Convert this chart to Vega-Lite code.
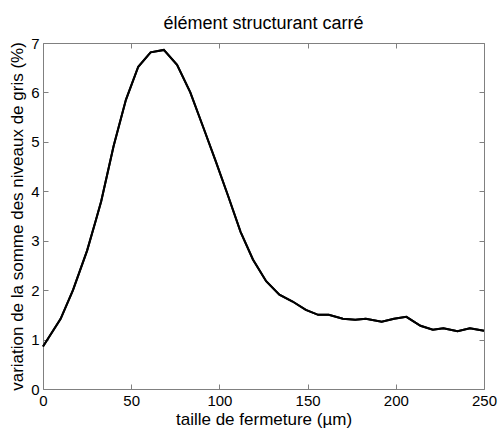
{
  "$schema": "https://vega.github.io/schema/vega-lite/v6.json",
  "width": 441,
  "height": 346,
  "autosize": "none",
  "padding": {"left": 43, "top": 43, "right": 15, "bottom": 41},
  "background": "white",
  "title": {"text": "élément structurant carré", "font": "Liberation Sans", "fontSize": 18, "fontWeight": "normal", "color": "black", "offset": 3},
  "config": {
    "view": {"stroke": null},
    "axis": {
      "labelFont": "Liberation Sans", "labelFontSize": 15, "labelColor": "black",
      "titleFont": "Liberation Sans", "titleFontSize": 17, "titleFontWeight": "normal", "titleColor": "black",
      "domainColor": "#808080", "tickColor": "#808080", "grid": false,
      "tickSize": -5, "labelPadding": 9
    }
  },
  "data": {"values": [
    {"x": 0, "y": 0.86}, {"x": 10, "y": 1.42}, {"x": 17, "y": 2.0}, {"x": 25, "y": 2.8},
    {"x": 30, "y": 3.42}, {"x": 33, "y": 3.8}, {"x": 40, "y": 4.91}, {"x": 47, "y": 5.85},
    {"x": 54, "y": 6.52}, {"x": 61, "y": 6.81}, {"x": 68.5, "y": 6.86}, {"x": 76, "y": 6.56},
    {"x": 83.5, "y": 6.0}, {"x": 91, "y": 5.28}, {"x": 98, "y": 4.6}, {"x": 105, "y": 3.9},
    {"x": 112, "y": 3.18}, {"x": 119, "y": 2.62}, {"x": 126.5, "y": 2.18}, {"x": 134, "y": 1.91},
    {"x": 141.5, "y": 1.77}, {"x": 149, "y": 1.6}, {"x": 156, "y": 1.5}, {"x": 162, "y": 1.5},
    {"x": 170, "y": 1.42}, {"x": 177, "y": 1.4}, {"x": 183, "y": 1.42}, {"x": 192, "y": 1.36},
    {"x": 199, "y": 1.42}, {"x": 206, "y": 1.46}, {"x": 214, "y": 1.28}, {"x": 221, "y": 1.2},
    {"x": 227, "y": 1.23}, {"x": 235, "y": 1.17}, {"x": 242, "y": 1.23}, {"x": 250, "y": 1.18}
  ]},
  "layer": [
    {
      "mark": {"type": "line", "color": "black", "strokeWidth": 2},
      "encoding": {
        "x": {"field": "x", "type": "quantitative", "scale": {"domain": [0, 250], "nice": false},
              "axis": {"orient": "bottom", "values": [0, 50, 100, 150, 200, 250], "title": "taille de fermeture (µm)", "titlePadding": 3, "labelFlush": false}},
        "y": {"field": "y", "type": "quantitative", "scale": {"domain": [0, 7], "nice": false},
              "axis": {"orient": "left", "values": [0, 1, 2, 3, 4, 5, 6, 7], "title": "variation de la somme des niveaux de gris (%)", "titlePadding": 4, "labelFlush": false}}
      }
    },
    {
      "mark": {"type": "line", "color": "black", "strokeWidth": 2},
      "encoding": {
        "x": {"field": "x", "type": "quantitative", "scale": {"domain": [0, 250], "nice": false},
              "axis": {"orient": "top", "values": [0, 50, 100, 150, 200, 250], "labels": false, "title": null}},
        "y": {"field": "y", "type": "quantitative", "scale": {"domain": [0, 7], "nice": false},
              "axis": {"orient": "right", "values": [0, 1, 2, 3, 4, 5, 6, 7], "labels": false, "title": null}}
      }
    }
  ],
  "resolve": {"axis": {"x": "independent", "y": "independent"}}
}
